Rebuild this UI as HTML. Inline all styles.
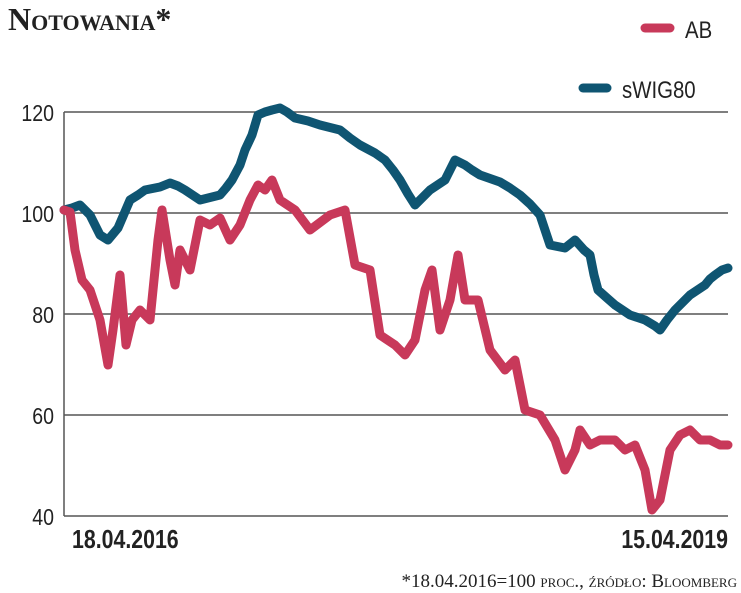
<!DOCTYPE html>
<html><head><meta charset="utf-8"><style>
html,body{margin:0;padding:0;background:#fff;}
svg{display:block;}
</style></head><body>
<svg width="741" height="593" viewBox="0 0 741 593" xmlns="http://www.w3.org/2000/svg">
<text x="8" y="30" font-family="Liberation Serif, serif" font-weight="bold" font-size="32" fill="#222" style="font-variant:small-caps">Notowania*</text>
<line x1="645" y1="28" x2="670" y2="28" stroke="#c8395a" stroke-width="9" stroke-linecap="round"/>
<text x="685" y="38" font-family="Liberation Sans, sans-serif" font-size="24" fill="#222" transform="translate(685 0) scale(0.85 1) translate(-685 0)">AB</text>
<line x1="583" y1="88" x2="607" y2="88" stroke="#0f5572" stroke-width="9" stroke-linecap="round"/>
<text x="622" y="98" font-family="Liberation Sans, sans-serif" font-size="24" fill="#222" transform="translate(622 0) scale(0.85 1) translate(-622 0)">sWIG80</text>
<g stroke="#555" stroke-width="1.5">
<line x1="64" y1="112" x2="728" y2="112"/>
<line x1="64" y1="213" x2="728" y2="213"/>
<line x1="64" y1="314" x2="728" y2="314"/>
<line x1="64" y1="415" x2="728" y2="415"/>
<line x1="64" y1="516" x2="728" y2="516"/>
<line x1="64" y1="112" x2="64" y2="516"/>
</g>
<g font-family="Liberation Sans, sans-serif" font-size="23" fill="#222" text-anchor="end">
<text x="54" y="121" transform="translate(54 0) scale(0.85 1) translate(-54 0)">120</text>
<text x="54" y="222" transform="translate(54 0) scale(0.85 1) translate(-54 0)">100</text>
<text x="54" y="323" transform="translate(54 0) scale(0.85 1) translate(-54 0)">80</text>
<text x="54" y="424" transform="translate(54 0) scale(0.85 1) translate(-54 0)">60</text>
<text x="54" y="525" transform="translate(54 0) scale(0.85 1) translate(-54 0)">40</text>
</g>
<polyline fill="none" stroke="#0f5572" stroke-width="9" stroke-linejoin="round" stroke-linecap="round" points="64,210 72,208 80,205 85,210 90,215 95,225 100,235 108,240 113,234 118,228 124,214 130,200 138,195 145,190 160,187 170,183 178,186 185,190 200,200 220,195 226,188 232,180 240,165 245,150 252,135 258,115 265,112 272,110 280,108 287,112 295,118 308,121 320,125 340,130 350,138 360,145 375,153 385,160 393,170 400,180 408,194 415,205 422,198 430,190 445,180 450,170 455,160 465,165 472,170 480,175 500,182 510,188 520,195 530,204 540,215 545,230 550,245 565,248 575,240 584,250 590,255 594,275 598,290 607,298 615,305 630,315 645,320 655,326 660,330 667,320 675,310 690,295 705,285 710,279 715,275 722,270 728,268"/>
<polyline fill="none" stroke="#c8395a" stroke-width="9" stroke-linejoin="round" stroke-linecap="round" points="64,210 70,212 75,250 82,280 90,290 100,320 108,365 113,330 120,275 126,345 132,320 140,310 150,320 158,240 162,210 170,260 175,285 180,250 190,270 200,220 210,225 220,218 230,240 240,225 250,200 258,185 265,190 272,180 280,200 295,210 310,230 330,215 345,210 355,265 370,270 380,335 395,345 405,355 415,340 425,290 432,270 440,330 450,300 458,255 465,300 478,300 490,350 505,370 515,360 525,410 540,415 555,440 565,470 575,450 580,430 590,445 600,440 615,440 625,450 635,445 645,470 652,510 660,500 670,450 680,435 690,430 700,440 710,440 720,445 728,445"/>
<g font-family="Liberation Sans, sans-serif" font-weight="bold" font-size="26" fill="#222">
<text x="72" y="548" transform="translate(72 0) scale(0.82 1) translate(-72 0)">18.04.2016</text>
<text x="728" y="548" text-anchor="end" transform="translate(728 0) scale(0.82 1) translate(-728 0)">15.04.2019</text>
</g>
<text x="737" y="587" text-anchor="end" font-family="Liberation Serif, serif" font-size="19" fill="#222" style="font-variant:small-caps">*18.04.2016=100 proc., źródło: Bloomberg</text>
</svg>
</body></html>
